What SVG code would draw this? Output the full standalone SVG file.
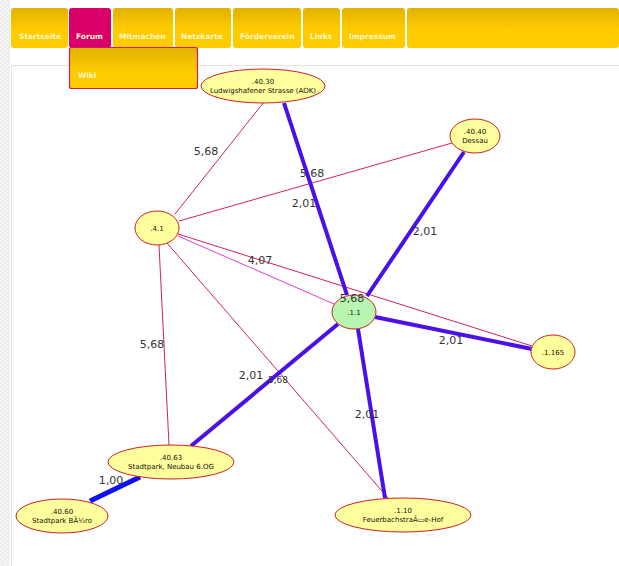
<svg xmlns="http://www.w3.org/2000/svg" width="619" height="566" viewBox="0 0 619 566">
<defs>
  <linearGradient id="tab" x1="0" y1="0" x2="0" y2="1">
    <stop offset="0" stop-color="#E2B200"/>
    <stop offset="0.55" stop-color="#FFCC00"/>
    <stop offset="1" stop-color="#FFCC00"/>
  </linearGradient>
  <linearGradient id="wiki" x1="0" y1="0" x2="0" y2="1">
    <stop offset="0" stop-color="#E2B200"/>
    <stop offset="0.6" stop-color="#FFCC00"/>
    <stop offset="1" stop-color="#FFCC00"/>
  </linearGradient>
  <pattern id="hatch" width="4" height="4" patternUnits="userSpaceOnUse">
    <rect width="4" height="4" fill="#F4F4F4"/>
    <path d="M0 4 L4 0" stroke="#E4E4E4" stroke-width="1"/>
  </pattern>
</defs>
<style>
  .tab { fill: url(#tab); }
  .tabt { font-family: "DejaVu Sans", Verdana, sans-serif; font-size: 7.5px; font-weight: bold; fill: #FFF6CC; }
  .node { fill: #FFFF9E; stroke: #CC2020; stroke-width: 1; }
  .nodeg { fill: #B8F5B0; stroke: #CC2020; stroke-width: 1; }
  .nt { font-family: "DejaVu Sans", Verdana, sans-serif; font-size: 7px; fill: #111; text-anchor: middle; }
  .thin { stroke: #D0206A; stroke-width: 1; fill: none; }
  .mag { stroke: #E040D0; stroke-width: 1; fill: none; }
  .thick { stroke: #4A10E8; stroke-width: 4; fill: none; }
  .blue { stroke: #1010F0; stroke-width: 5; fill: none; }
  .lbl { font-family: "DejaVu Sans", Verdana, sans-serif; font-size: 11px; fill: #333; text-anchor: middle; }
  .lbls { font-family: "DejaVu Sans", Verdana, sans-serif; font-size: 9px; fill: #333; text-anchor: middle; }
</style>
<rect width="619" height="566" fill="#FFFFFF"/>
<rect x="0" y="0" width="10" height="566" fill="url(#hatch)"/>
<line x1="11" y1="65.5" x2="619" y2="65.5" stroke="#E4E4E4" stroke-width="1"/>
<line x1="11.5" y1="65" x2="11.5" y2="566" stroke="#E4E4E4" stroke-width="1"/>

<g id="menu">
  <rect class="tab" x="11" y="8" width="57" height="40" rx="3"/>
  <rect x="69" y="8" width="42" height="40" rx="3" fill="#D9006A"/>
  <rect class="tab" x="113" y="8" width="60" height="40" rx="3"/>
  <rect class="tab" x="175" y="8" width="56" height="40" rx="3"/>
  <rect class="tab" x="233" y="8" width="68" height="40" rx="3"/>
  <rect class="tab" x="303" y="8" width="37" height="40" rx="3"/>
  <rect class="tab" x="342" y="8" width="63" height="40" rx="3"/>
  <rect class="tab" x="407" y="8" width="212" height="40" rx="3"/>
  <text class="tabt" x="19" y="39">Startseite</text>
  <text class="tabt" x="76" y="39">Forum</text>
  <text class="tabt" x="119" y="39">Mitmachen</text>
  <text class="tabt" x="181" y="39">Netzkarte</text>
  <text class="tabt" x="240" y="39">Förderverein</text>
  <text class="tabt" x="310" y="39">Links</text>
  <text class="tabt" x="349" y="39">Impressum</text>
  <rect x="69.5" y="47.5" width="128" height="41" rx="2" fill="url(#wiki)" stroke="#C8205A" stroke-width="1.2"/>
  <text class="tabt" x="78" y="78">Wiki</text>
</g>

<g id="connectors">
  <line class="thin" x1="175" y1="214" x2="264" y2="102"/>
  <line class="thin" x1="179" y1="221" x2="452" y2="143"/>
  <line class="mag" x1="178" y1="236" x2="334" y2="304"/>
  <line class="thin" x1="178" y1="234" x2="532" y2="346"/>
  <line class="thin" x1="159" y1="245" x2="169" y2="445"/>
  <line class="thin" x1="167" y1="243" x2="388" y2="498"/>
  <line class="thick" x1="284" y1="103" x2="347" y2="295"/>
  <line class="thick" x1="464" y1="152" x2="367" y2="296"/>
  <line class="thick" x1="375" y1="317" x2="532" y2="349"/>
  <line class="thick" x1="338" y1="324" x2="191" y2="446"/>
  <line class="thick" x1="358" y1="329" x2="385" y2="498"/>
  <line class="blue" x1="140" y1="477" x2="90" y2="501"/>
</g>

<g id="n4030">
  <ellipse class="node" cx="263" cy="86" rx="62" ry="17"/>
  <text class="nt" x="263" y="84">.40.30</text>
  <text class="nt" x="263" y="93">Ludwigshafener Strasse (AOK)</text>
</g>
<g id="n4040">
  <ellipse class="node" cx="475" cy="136" rx="25" ry="17"/>
  <text class="nt" x="475" y="134">.40.40</text>
  <text class="nt" x="475" y="143">Dessau</text>
</g>
<g id="n41">
  <ellipse class="node" cx="157" cy="228" rx="22" ry="17"/>
  <text class="nt" x="157" y="231">.4.1</text>
</g>
<g id="n11">
  <ellipse class="nodeg" cx="354" cy="312" rx="22" ry="17"/>
  <text class="nt" x="354" y="315">.1.1</text>
</g>
<g id="n1165">
  <ellipse class="node" cx="553" cy="352" rx="22" ry="17"/>
  <text class="nt" x="553" y="355">.1.165</text>
</g>
<g id="n4063">
  <ellipse class="node" cx="171" cy="462" rx="63" ry="17"/>
  <text class="nt" x="171" y="460">.40.63</text>
  <text class="nt" x="171" y="469">Stadtpark, Neubau 6.OG</text>
</g>
<g id="n4060">
  <ellipse class="node" cx="62" cy="516" rx="46" ry="17"/>
  <text class="nt" x="62" y="514">.40.60</text>
  <text class="nt" x="62" y="523">Stadtpark BÃ¼ro</text>
</g>
<g id="n110">
  <ellipse class="node" cx="403" cy="515" rx="68" ry="17"/>
  <text class="nt" x="403" y="513">.1.10</text>
  <text class="nt" x="403" y="522">FeuerbachstraÃ▭e-Hof</text>
</g>

<g id="connector-labels">
  <text class="lbl" x="206" y="155">5,68</text>
  <text class="lbl" x="312" y="177">5,68</text>
  <text class="lbl" x="304" y="207">2,01</text>
  <text class="lbl" x="425" y="235">2,01</text>
  <text class="lbl" x="260" y="264">4,07</text>
  <text class="lbl" x="352" y="302">5,68</text>
  <text class="lbl" x="451" y="344">2,01</text>
  <text class="lbl" x="152" y="348">5,68</text>
  <text class="lbl" x="251" y="379">2,01</text>
  <text class="lbls" x="278" y="383">5,68</text>
  <text class="lbl" x="367" y="418">2,01</text>
  <text class="lbl" x="111" y="484">1,00</text>
</g>
</svg>
